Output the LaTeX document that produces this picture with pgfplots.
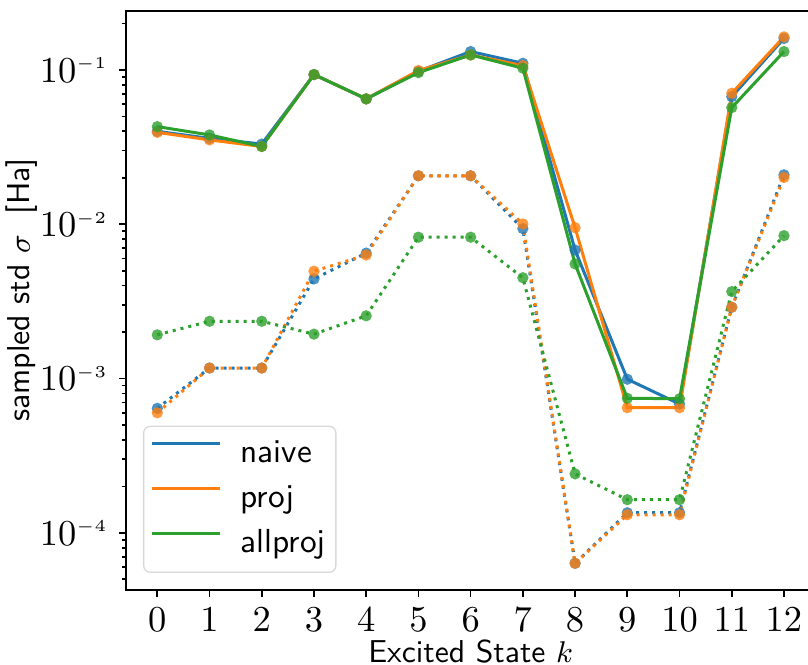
\documentclass[border=0pt]{standalone}
\usepackage{pgfplots}
\usepackage{pgfplotstable}
\pgfplotsset{compat=1.18}
\definecolor{tabblue}{HTML}{1F77B4}
\definecolor{taborange}{HTML}{FF7F0E}
\definecolor{tabgreen}{HTML}{2CA02C}

\pgfplotstableread{
k naiveS projS allS naiveD projD allD
0 0.0400 0.0394 0.0429 6.41e-4 6.0e-4 1.92e-3
1 0.0360 0.0352 0.0379 1.17e-3 1.17e-3 2.35e-3
2 0.0331 0.0319 0.0319 1.17e-3 1.17e-3 2.35e-3
3 0.0933 0.0933 0.0933 4.42e-3 4.96e-3 1.94e-3
4 0.0649 0.0649 0.0649 6.5e-3 6.32e-3 2.55e-3
5 0.098 0.099 0.096 0.0206 0.0206 8.24e-3
6 0.1315 0.125 0.125 0.0206 0.0206 8.24e-3
7 0.1104 0.1066 0.1026 9.37e-3 0.01004 4.5e-3
8 0.0068 0.0095 0.00553 6.35e-5 6.35e-5 2.41e-4
9 9.9e-4 6.47e-4 7.45e-4 1.35e-4 1.31e-4 1.64e-4
10 6.84e-4 6.47e-4 7.4e-4 1.35e-4 1.31e-4 1.64e-4
11 0.0671 0.0706 0.057 2.9e-3 2.9e-3 3.66e-3
12 0.160 0.1637 0.1315 0.0209 0.0201 8.43e-3
}\datatable

\begin{document}
\begin{tikzpicture}
\begin{axis}[
  scale only axis,
  width=206.85pt, height=173.8pt,
  ymode=log,
  xmin=-0.6, xmax=12.6,
  ymin=4.27e-5, ymax=0.242,
  xtick={0,...,12},
  ytick={1e-4,1e-3,1e-2,1e-1},
  yticklabels={$10^{\scriptscriptstyle -4}$,$10^{\scriptscriptstyle -3}$,$10^{\scriptscriptstyle -2}$,$10^{\scriptscriptstyle -1}$},
  minor ytick={5e-5,6e-5,7e-5,8e-5,9e-5,2e-4,3e-4,4e-4,5e-4,6e-4,7e-4,8e-4,9e-4,2e-3,3e-3,4e-3,5e-3,6e-3,7e-3,8e-3,9e-3,2e-2,3e-2,4e-2,5e-2,6e-2,7e-2,8e-2,9e-2,2e-1},
  tick align=outside,
  xtick pos=bottom, ytick pos=left,
  major tick length=2pt, minor tick length=1.1pt,
  axis line style={line width=0.6pt},
  every tick/.style={line width=0.5pt, black},
  tick label style={font=\fontsize{10.5}{12.5}\selectfont},
  label style={font=\sffamily\fontsize{9.5}{11.5}\selectfont},
  xlabel={Excited State $k$},
  ylabel={sampled std $\sigma$\ \ [Ha]},
  xlabel style={at={(axis description cs:0.5,-0.126)}, anchor=base},
  ylabel style={at={(axis description cs:-0.151,0.518)}, anchor=center},
  legend style={at={(axis description cs:0.0247,0.0293)}, anchor=south west,
    draw=black!15, rounded corners=2pt, fill=white, fill opacity=0.8, text opacity=1,
    font=\sffamily\fontsize{10}{12}\selectfont, inner xsep=2pt, inner ysep=2.4pt, row sep=1.5pt,
    nodes={inner sep=1pt, text height=0.75em, text depth=0.25em}},
  legend cell align=left,
  /tikz/every odd column/.append style={column sep=4.8pt},
  legend image code/.code={\draw[#1] (0pt,0.33em) -- (20.4pt,0.33em);},
  mark options={solid, fill opacity=0.8, draw opacity=0},
]
% dotted
\addplot[tabblue, line width=0.9pt, dash pattern=on 0.9pt off 1.5pt, mark=*, mark size=1.7pt, forget plot] table[x=k, y=naiveD] {\datatable};
\addplot[taborange, line width=0.9pt, dash pattern=on 0.9pt off 1.5pt, mark=*, mark size=1.7pt, forget plot] table[x=k, y=projD] {\datatable};
\addplot[tabgreen, line width=0.9pt, dash pattern=on 0.9pt off 1.5pt, mark=*, mark size=1.7pt, forget plot] table[x=k, y=allD] {\datatable};
% solid
\addplot[tabblue, line width=0.9pt, mark=*, mark size=1.7pt] table[x=k, y=naiveS] {\datatable};
\addlegendentry{naive}
\addplot[taborange, line width=0.9pt, mark=*, mark size=1.7pt] table[x=k, y=projS] {\datatable};
\addlegendentry{proj}
\addplot[tabgreen, line width=0.9pt, mark=*, mark size=1.7pt] table[x=k, y=allS] {\datatable};
\addlegendentry{allproj}
\coordinate (BR) at (rel axis cs:0.98939,1);
\coordinate (BL) at (rel axis cs:0,0);
\end{axis}
\pgfresetboundingbox
\path[use as bounding box] ([xshift=-37.8pt,yshift=-22.5pt]BL) rectangle ([yshift=3.2pt]BR);
\end{tikzpicture}
\end{document}
